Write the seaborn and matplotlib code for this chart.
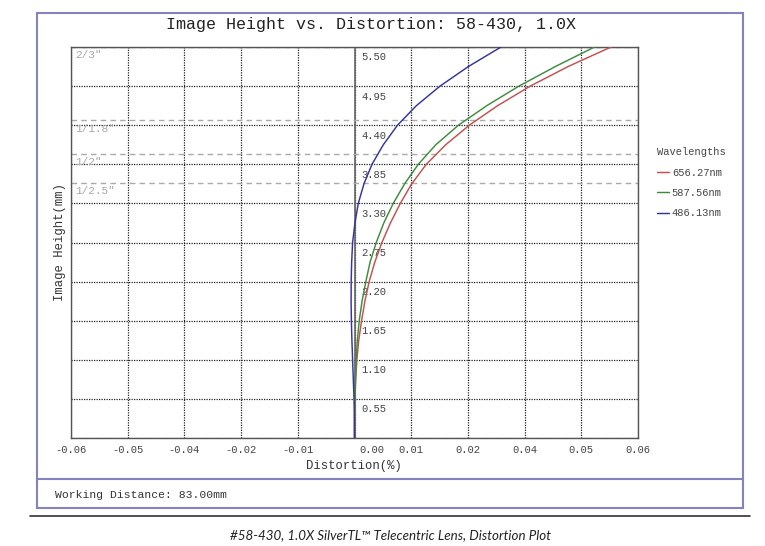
import numpy as np
import pandas as pd
import matplotlib
matplotlib.use("Agg")
import matplotlib.pyplot as plt
import seaborn as sns
from matplotlib.transforms import ScaledTranslation
from matplotlib.patches import Rectangle
from matplotlib.lines import Line2D

# ---------------- data ----------------
title = "Image Height vs. Distortion: 58-430, 1.0X"
x_label = "Distortion(%)"
y_label = "Image Height(mm)"
footer = "Working Distance: 83.00mm"
caption = "#58-430, 1.0X SilverTL\u2122 Telecentric Lens, Distortion Plot"
legend_title = "Wavelengths"

heights = [0.0, 0.275, 0.55, 0.825, 1.10, 1.375, 1.65, 1.925, 2.20, 2.475, 2.75,
           3.025, 3.30, 3.575, 3.85, 4.125, 4.40, 4.675, 4.95, 5.225, 5.50]
dist_656 = [0.0, 0.00003, 0.0001, 0.00025, 0.0005, 0.0009, 0.0015, 0.0022, 0.0031, 0.0043, 0.0058,
            0.0076, 0.0097, 0.0121, 0.0152, 0.0193, 0.0243, 0.0303, 0.0372, 0.0452, 0.0543]
dist_587 = [0.0, 0.00002, 0.0001, 0.0002, 0.00035, 0.0006, 0.0010, 0.0016, 0.0024, 0.0033, 0.0046,
            0.0062, 0.0082, 0.0106, 0.0135, 0.0172, 0.0220, 0.0280, 0.0348, 0.0425, 0.0508]
dist_486 = [0.0, -0.00003, -0.0001, -0.00025, -0.0004, -0.00055, -0.00066, -0.00072, -0.0007, -0.0006, -0.0004,
            0.0001, 0.0008, 0.0020, 0.0037, 0.0061, 0.0091, 0.0131, 0.0181, 0.0241, 0.0310]
wavelengths = ["656.27nm", "587.56nm", "486.13nm"]
colors = ["#c45050", "#3d8d3d", "#34349f"]

x_ticks = [-0.06, -0.048, -0.036, -0.024, -0.012, 0.0, 0.012, 0.024, 0.036, 0.048, 0.06]
y_ticks = [0.0, 0.55, 1.10, 1.65, 2.20, 2.75, 3.30, 3.85, 4.40, 4.95, 5.50]
sensor_names = ['2/3"', '1/1.8"', '1/2"', '1/2.5"']
sensor_heights = [5.50, 4.47, 4.00, 3.59]

# ---------------- style ----------------
sns.set_style("white")
plt.rcParams["font.family"] = ["Liberation Mono", "DejaVu Sans"]
MONO = ["Liberation Mono", "DejaVu Sans"]

W, H = 765, 546
fig = plt.figure(figsize=(W / 100, H / 100), dpi=100)
fig.patch.set_facecolor("white")

def fx(px):
    return px / W

def fy(py):
    return 1 - py / H

ax = fig.add_axes([fx(71), fy(438), fx(638) - fx(71), fy(47) - fy(438)])

frames = []
for name, vals in zip(wavelengths, [dist_656, dist_587, dist_486]):
    frames.append(pd.DataFrame({"Distortion": vals, "Height": heights, "Wavelength": name}))
df = pd.concat(frames, ignore_index=True)

sns.lineplot(data=df, x="Distortion", y="Height", hue="Wavelength", hue_order=wavelengths,
             palette=colors, sort=False, estimator=None, linewidth=1.05, ax=ax, zorder=4)

ax.set_xlim(-0.06, 0.06)
ax.set_ylim(0, 5.5)
ax.set_xticks(x_ticks)
ax.set_yticks(y_ticks)
ax.grid(True, color="#222222", linestyle=(0, (1, 1)), linewidth=0.9)
ax.set_axisbelow(True)
ax.set_xlabel("")
ax.set_ylabel("")

for sp in ax.spines.values():
    sp.set_color("#555555")
    sp.set_linewidth(1.0)

ax.axvline(0, color="#666666", linewidth=1.2, zorder=2)

# x tick labels
ax.set_xticklabels([f"{v:.2f}" for v in x_ticks], fontsize=7.6, color="#444444", family=MONO)
ax.tick_params(axis="x", direction="in", length=7, color="#555555", pad=5)
zero_lbl = ax.get_xticklabels()[5]
zero_lbl.set_ha("left")
zero_lbl.set_transform(zero_lbl.get_transform() + ScaledTranslation(5 / 100, 0, fig.dpi_scale_trans))

# y tick labels drawn to the right of the central axis
ax.set_yticklabels([])
ax.tick_params(axis="y", length=0)
for v in y_ticks[1:]:
    ax.text(0, v, f"{v:.2f}", transform=ax.transData + ScaledTranslation(7 / 100, -5.5 / 100, fig.dpi_scale_trans),
            ha="left", va="top", fontsize=7.6, color="#444444", family=MONO, zorder=3)

# sensor format lines
for name, h in zip(sensor_names, sensor_heights):
    ax.axhline(h, color="#aaaaaa", linestyle=(0, (4, 3)), linewidth=1.0, zorder=2)
    ax.text(-0.06, h, name, transform=ax.transData + ScaledTranslation(4 / 100, -3.5 / 100, fig.dpi_scale_trans),
            ha="left", va="top", fontsize=8, color="#a8a8a8", family=MONO, zorder=3)

# legend
handles, labels = ax.get_legend_handles_labels()
if ax.get_legend() is not None:
    ax.get_legend().remove()
leg = fig.legend(handles, labels, title=legend_title, loc="upper left",
                 bbox_to_anchor=(fx(652), fy(142)), bbox_transform=fig.transFigure,
                 frameon=False, prop={"family": MONO, "size": 7.5},
                 title_fontproperties={"family": MONO, "size": 7.5},
                 alignment="left", handlelength=1.1, handletextpad=0.3,
                 labelspacing=1.0, borderpad=0)
for t in leg.get_texts():
    t.set_color("#444444")
leg.get_title().set_color("#444444")

# titles and labels
fig.text(fx(371.5), fy(25), title, ha="center", va="center", fontsize=12, family=MONO, color="#222222")
fig.text(fx(60), fy(242), y_label, ha="center", va="center", rotation=90, fontsize=8.8, family=MONO, color="#333333")
fig.text(fx(354), fy(466), x_label, ha="center", va="center", fontsize=8.8, family=MONO, color="#333333")
fig.text(fx(55), fy(495), footer, ha="left", va="center", fontsize=8.2, family=MONO, color="#333333")

# frame and separators
fig.add_artist(Rectangle((fx(37), fy(508)), fx(743) - fx(37), fy(13) - fy(508), transform=fig.transFigure,
                         fill=False, edgecolor="#8383c0", linewidth=1.5))
fig.add_artist(Line2D([fx(37), fx(743)], [fy(479), fy(479)], transform=fig.transFigure,
                      color="#8383c0", linewidth=1.5))
fig.add_artist(Line2D([fx(30), fx(750)], [fy(516), fy(516)], transform=fig.transFigure,
                      color="#333333", linewidth=1.2))
fig.text(fx(391), fy(535), caption, ha="center", va="center", fontsize=9.6, style="italic",
         family=["Lato", "DejaVu Sans"], color="#222222")

fig.savefig("out.png", dpi=100)
